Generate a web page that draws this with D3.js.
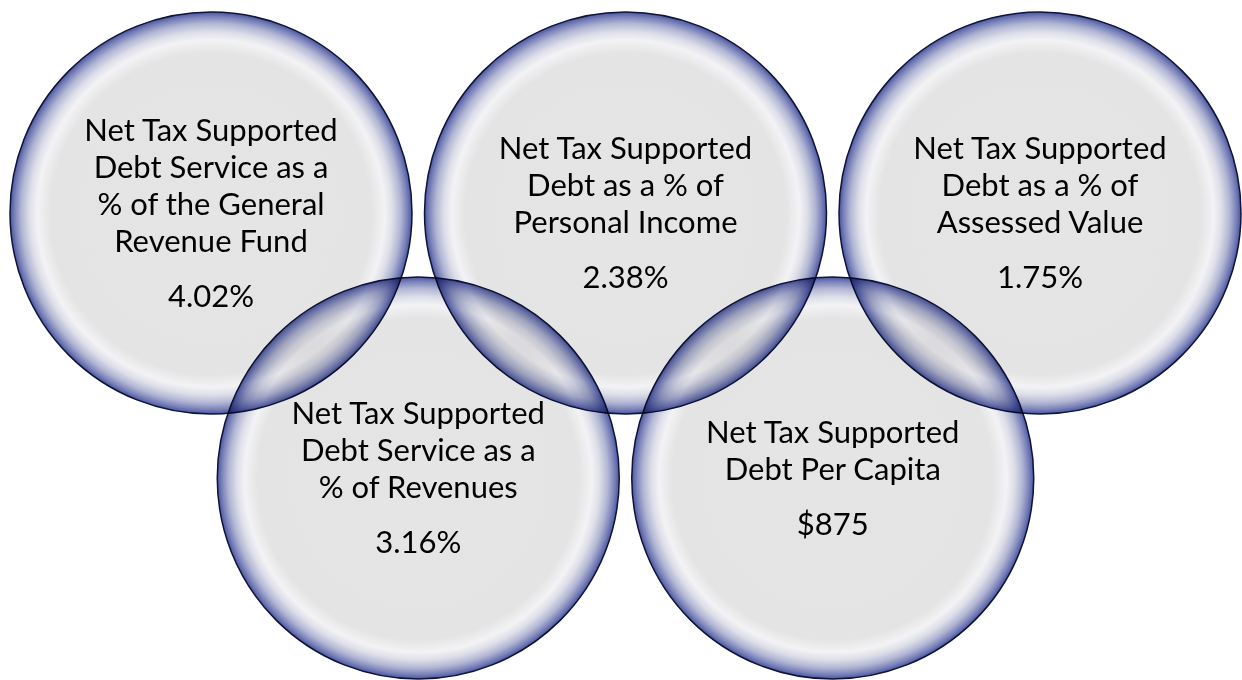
<!DOCTYPE html>
<html>
<head>
<meta charset="utf-8">
<script src="https://cdn.jsdelivr.net/npm/d3@7"></script>
<style>
  html, body { margin: 0; padding: 0; background: #ffffff; }
  svg { display: block; }
</style>
</head>
<body>
<svg id="chart" width="1242" height="680"></svg>
<script>
// ---- Data (ring order: top, bottom, top, bottom, top) ----
const labels = [
  ["Net Tax Supported", "Debt Service as a", "% of the General", "Revenue Fund"],
  ["Net Tax Supported", "Debt Service as a", "% of Revenues"],
  ["Net Tax Supported", "Debt as a % of", "Personal Income"],
  ["Net Tax Supported", "Debt Per Capita"],
  ["Net Tax Supported", "Debt as a % of", "Assessed Value"]
];
const values = ["4.02%", "3.16%", "2.38%", "$875", "1.75%"];

// ---- Layout ----
const W = 1242, H = 680;
const R = 201;
const lineH = 37, valueGap = 55, capH = 21, fontSize = 31;

const svg = d3.select("#chart");
const idx = d3.range(values.length);
const x = d3.scaleLinear().domain([0, values.length - 1]).range([211, 1040]);
const y = d3.scaleLinear().domain([0, 1]).range([213, 478]);

const defs = svg.append("defs");
const grad = defs.append("radialGradient")
  .attr("id", "ringGrad")
  .attr("cx", "50%").attr("cy", "50%").attr("r", "50%")
  .attr("fx", "50%").attr("fy", "51%");
[
  [0.00, "#e5e5e6"],
  [0.80, "#e4e4e5"],
  [0.865, "#f3f3f5"],
  [0.905, "#dcdde8"],
  [0.945, "#b0b5d3"],
  [0.978, "#7880b9"],
  [1.00, "#4b559e"]
].forEach(([o, c]) => grad.append("stop").attr("offset", o).attr("stop-color", c));

const g = svg.append("g");

g.selectAll("circle.ring")
  .data(idx)
  .join("circle")
  .attr("class", "ring")
  .attr("cx", i => x(i))
  .attr("cy", i => y(i % 2))
  .attr("r", R)
  .attr("fill", "url(#ringGrad)")
  .attr("stroke", "#0e1438")
  .attr("stroke-width", 1.5)
  .style("mix-blend-mode", "multiply");

const texts = svg.append("g")
  .attr("font-family", "Lato, 'Open Sans', sans-serif")
  .attr("font-size", fontSize)
  .attr("fill", "#000")
  .attr("text-anchor", "middle");

idx.forEach(i => {
  const lines = labels[i];
  const cx = x(i), cy = y(i % 2);
  const blockH = capH + (lines.length - 1) * lineH + valueGap;
  const first = cy - blockH / 2 + capH;
  const t = texts.append("text");
  lines.forEach((ln, k) => {
    t.append("tspan").attr("x", cx).attr("y", first + k * lineH).text(ln);
  });
  texts.append("text")
    .attr("x", cx)
    .attr("y", first + (lines.length - 1) * lineH + valueGap)
    .text(values[i]);
});
</script>
</body>
</html>
